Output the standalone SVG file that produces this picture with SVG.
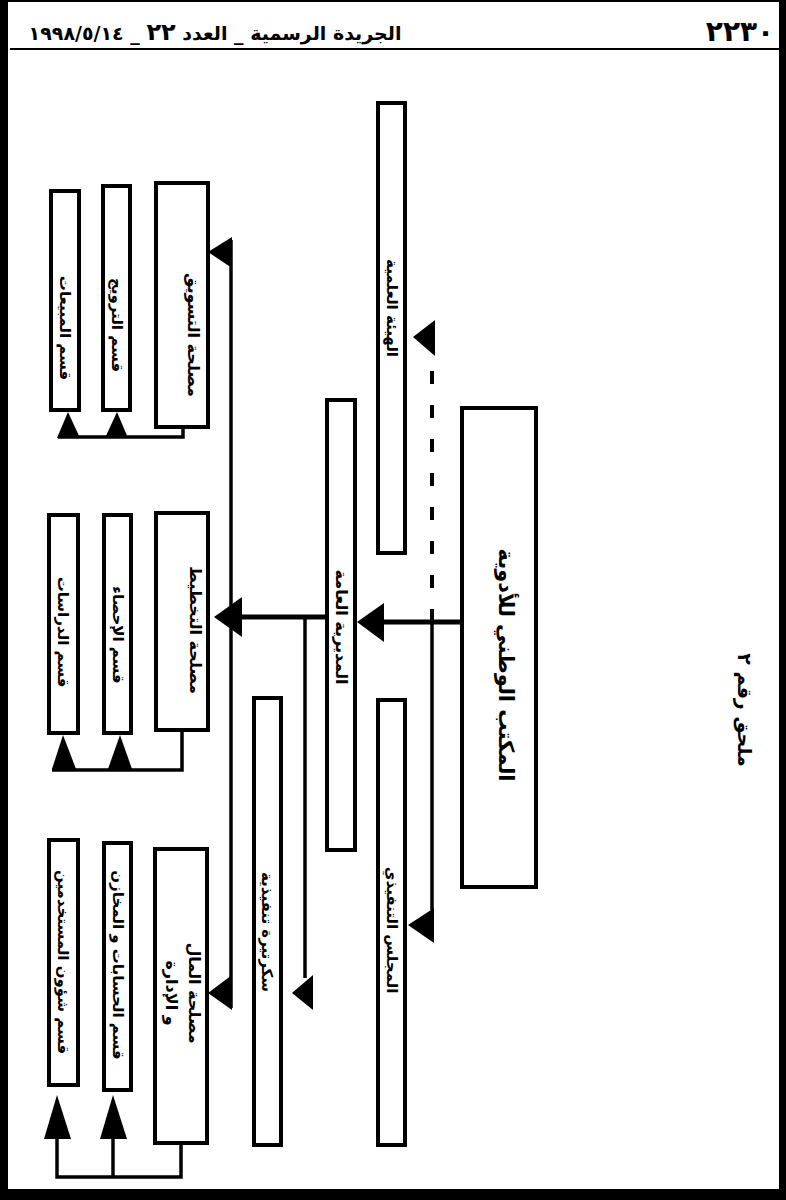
<svg xmlns="http://www.w3.org/2000/svg" width="786" height="1200" viewBox="0 0 786 1200">
<style>
.box{fill:#fff;stroke:#000;stroke-width:4}
.lbl{font-family:"DejaVu Sans",sans-serif;font-weight:bold;fill:#000}
.ln{stroke:#000;stroke-width:3.5;fill:none}
.dash{stroke:#000;stroke-width:4;fill:none;stroke-dasharray:13 21}
.ah{fill:#000}
.frame{fill:#000}
</style>
<rect width="786" height="1200" fill="#fff"/>
<g id="page">
<rect class="frame" x="0" y="0" width="8" height="1200"/>
<rect class="frame" x="0" y="1189" width="786" height="11"/>
<rect class="frame" x="779" y="0" width="7" height="1200"/>
<rect class="frame" x="0" y="0" width="786" height="2"/>
<line x1="10" y1="49" x2="780" y2="49" stroke="#000" stroke-width="2"/>
<text class="lbl" x="740" y="41" font-size="28" text-anchor="middle">٢٢٣٠</text>
<text class="lbl" x="215" y="40" font-size="19" text-anchor="middle" font-weight="normal">الجريدة الرسمية _ العدد <tspan font-weight="bold" font-size="24">٢٢</tspan> _ ١٩٩٨/٥/١٤</text>
<text class="lbl" font-size="19" text-anchor="middle" dominant-baseline="central" transform="translate(745,710) rotate(90)">ملحق رقم ٢</text>
</g>
<g id="connectors">
<line class="ln" x1="462" y1="622" x2="380" y2="622" style="stroke-width:5"/>
<polygon class="ah" points="357,622 384,603 384,642"/>
<line class="dash" x1="432" y1="622" x2="432" y2="360"/>
<polygon class="ah" points="413,337 435,320 435,356"/>
<line class="ln" x1="432" y1="622" x2="432" y2="910"/>
<polygon class="ah" points="408,925 434,908 434,943"/>
<line class="ln" x1="326" y1="617" x2="240" y2="617" style="stroke-width:5"/>
<polygon class="ah" points="214,617 242,597 242,637"/>
<line class="ln" x1="305" y1="617" x2="305" y2="978"/>
<polygon class="ah" points="292,993 313,975 313,1010"/>
<line class="ln" x1="231" y1="240" x2="231" y2="1008"/>
<polygon class="ah" points="208,252 232,237 232,268"/>
<polygon class="ah" points="208,993 232,975 232,1010"/>
<polyline class="ln" points="183,427 183,437 58,437"/>
<polygon class="ah" points="68,412 57,438 80,438"/>
<polygon class="ah" points="117,412 105,438 128,438"/>
<polyline class="ln" points="182,730 182,770 52,770"/>
<polygon class="ah" points="63,735 52,769 76,769"/>
<polygon class="ah" points="120,735 108,769 132,769"/>
<polyline class="ln" points="181,1143 181,1177 57,1177 57,1135"/>
<line class="ln" x1="113" y1="1177" x2="113" y2="1135"/>
<polygon class="ah" points="57,1095 44,1139 71,1139"/>
<polygon class="ah" points="113,1095 100,1139 127,1139"/>
</g>
<g id="n-root">
<rect class="box" x="462" y="408" width="74" height="479"/>
<text class="lbl" font-size="21" text-anchor="middle" dominant-baseline="central" transform="translate(506,665) rotate(90)">المكتب الوطني للأدوية</text>
</g>
<g id="n-scientific">
<rect class="box" x="378" y="103" width="27" height="450"/>
<text class="lbl" font-size="15" text-anchor="middle" dominant-baseline="central" transform="translate(392,308) rotate(90)">الهيئة العلمية</text>
</g>
<g id="n-directorate">
<rect class="box" x="327" y="400" width="28" height="450"/>
<text class="lbl" font-size="16" text-anchor="middle" dominant-baseline="central" transform="translate(341,627) rotate(90)">المديرية العامة</text>
</g>
<g id="n-council">
<rect class="box" x="378" y="700" width="27" height="445"/>
<text class="lbl" font-size="15" text-anchor="middle" dominant-baseline="central" transform="translate(392,930) rotate(90)">المجلس التنفيذي</text>
</g>
<g id="n-secretary">
<rect class="box" x="254" y="698" width="27" height="447"/>
<text class="lbl" font-size="15" text-anchor="middle" dominant-baseline="central" transform="translate(267,932) rotate(90)">سكرتيرة تنفيذية</text>
</g>
<g id="n-marketing">
<rect class="box" x="156" y="183" width="52" height="244"/>
<text class="lbl" font-size="16" text-anchor="middle" dominant-baseline="central" transform="translate(193,335) rotate(90)">مصلحة التسويق</text>
</g>
<g id="n-planning">
<rect class="box" x="156" y="513" width="52" height="217"/>
<text class="lbl" font-size="16" text-anchor="middle" dominant-baseline="central" transform="translate(195,630) rotate(90)">مصلحة التخطيط</text>
</g>
<g id="n-finance">
<rect class="box" x="155" y="849" width="52" height="294"/>
<text class="lbl" font-size="16" text-anchor="middle" dominant-baseline="central" transform="translate(194,993) rotate(90)">مصلحة المال</text>
<text class="lbl" font-size="16" text-anchor="middle" dominant-baseline="central" transform="translate(171,993) rotate(90)">و الإدارة</text>
</g>
<g id="n-sales">
<rect class="box" x="51" y="191" width="28" height="219"/>
<text class="lbl" font-size="15" text-anchor="middle" dominant-baseline="central" transform="translate(65,328) rotate(90)">قسم المبيعات</text>
</g>
<g id="n-promotion">
<rect class="box" x="103" y="186" width="27" height="224"/>
<text class="lbl" font-size="15" text-anchor="middle" dominant-baseline="central" transform="translate(117,325) rotate(90)">قسم الترويج</text>
</g>
<g id="n-studies">
<rect class="box" x="49" y="515" width="29" height="218"/>
<text class="lbl" font-size="15" text-anchor="middle" dominant-baseline="central" transform="translate(63,632) rotate(90)">قسم الدراسات</text>
</g>
<g id="n-statistics">
<rect class="box" x="104" y="515" width="27" height="218"/>
<text class="lbl" font-size="15" text-anchor="middle" dominant-baseline="central" transform="translate(118,635) rotate(90)">قسم الإحصاء</text>
</g>
<g id="n-personnel">
<rect class="box" x="49" y="840" width="29" height="245"/>
<text class="lbl" font-size="15" text-anchor="middle" dominant-baseline="central" transform="translate(63,962) rotate(90)">قسم شؤون المستخدمين</text>
</g>
<g id="n-accounts">
<rect class="box" x="104" y="843" width="27" height="247"/>
<text class="lbl" font-size="15" text-anchor="middle" dominant-baseline="central" transform="translate(118,965) rotate(90)">قسم الحسابات و المخازن</text>
</g>
</svg>
